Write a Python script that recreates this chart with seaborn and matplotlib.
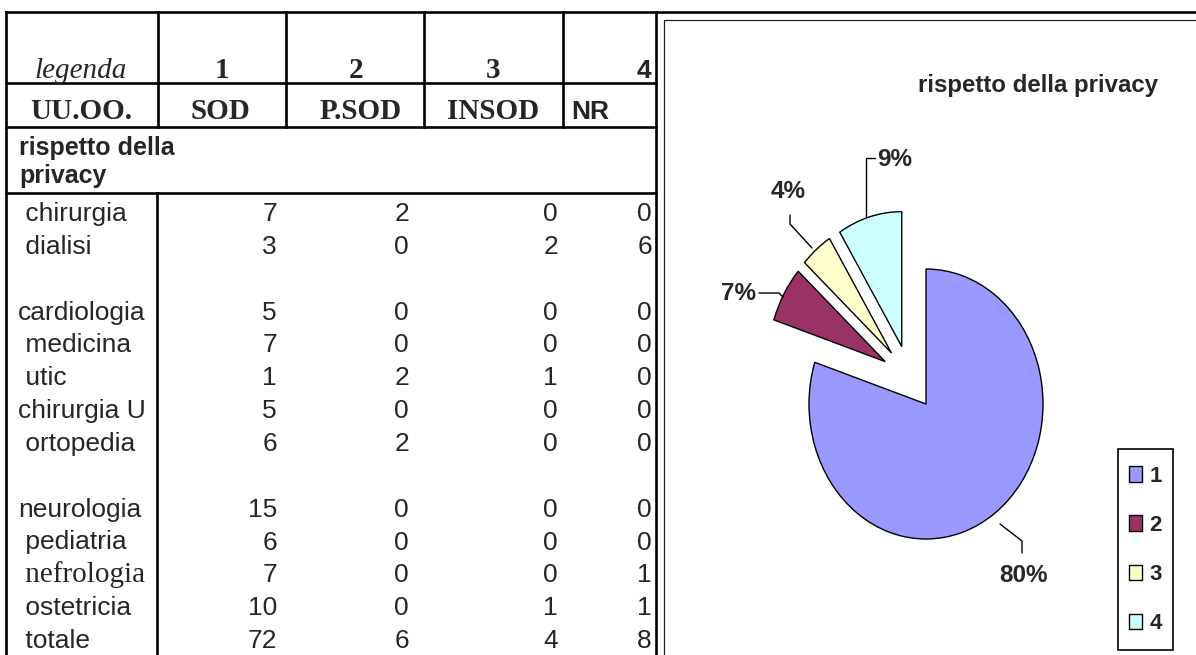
import numpy as np
import pandas as pd
import matplotlib
matplotlib.use("Agg")
import matplotlib.pyplot as plt
from matplotlib.patches import Rectangle
import seaborn as sns

# Answers per ward: 1 = SOD, 2 = P.SOD, 3 = INSOD, 4 = NR
reparti = [" chirurgia", " dialisi", "cardiologia", " medicina", " utic", "chirurgia U",
           " ortopedia", "neurologia", " pediatria", " nefrologia", " ostetricia"]
sod = [7, 3, 5, 7, 1, 5, 6, 15, 6, 7, 10]
psod = [2, 0, 0, 0, 2, 0, 2, 0, 0, 0, 0]
insod = [0, 2, 0, 0, 1, 0, 0, 0, 0, 0, 1]
nr = [0, 6, 0, 0, 0, 0, 0, 0, 0, 1, 1]
gruppi = [2, 5, 4]          # wards per block, blocks separated by an empty row

codici = ["1", "2", "3", "4"]
sigle = ["SOD", "P.SOD", "INSOD", "NR"]
domanda = "rispetto della privacy"
riga_totale = " totale"
colori = ["#9999FF", "#993366", "#FFFFCC", "#CCFFFF"]

df = pd.DataFrame({"reparto": reparti, "SOD": sod, "P.SOD": psod, "INSOD": insod, "NR": nr})
totali = df[sigle].sum().to_numpy()

sns.set_theme(style="white")
SERIF = "Liberation Serif"
SANS = "Liberation Sans"
plt.rcParams["font.family"] = [SANS, "DejaVu Sans"]

W, H = 1196, 655
fig = plt.figure(figsize=(W / 100, H / 100), dpi=100)
fig.patch.set_facecolor("white")

# ---- pie (elliptical, every slice pulled out) ----
cx, cy, rx, ry = 909.5, 377.8, 117.0, 135.0
pax = fig.add_axes([0, 0, 1, 1])
pax.patch.set_alpha(0)
wedges, _ = pax.pie(totali, colors=sns.color_palette(colori), startangle=90,
                    counterclock=False, explode=[0.24] * 4,
                    wedgeprops=dict(edgecolor="black", linewidth=1.0))
pax.set_aspect("auto")
pax.set_xlim(-cx / rx, (W - cx) / rx)
pax.set_ylim((cy - H) / ry, cy / ry)
pax.axis("off")

# legend entries; the box around them is drawn separately below
leg = pax.legend(wedges, codici, loc="center",
                 bbox_to_anchor=(1145.5 / W, 1 - 550 / H), bbox_transform=fig.transFigure,
                 frameon=False, borderaxespad=0, borderpad=0,
                 prop=dict(family=SANS, weight="bold", size=16),
                 handlelength=0.58, handleheight=0.68, handletextpad=0.32,
                 labelspacing=1.27)

# ---- table and chart frame, drawn in pixel space ----
ax = fig.add_axes([0, 0, 1, 1])
ax.patch.set_alpha(0)
ax.set_xlim(0, W)
ax.set_ylim(H, 0)
ax.axis("off")

lw = 1.9
k = dict(color="black", lw=lw, solid_capstyle="projecting")
ax.plot([6, W], [12, 12], **k)
ax.plot([6, 6], [12, H], **k)
ax.plot([656, 656], [12, H], **k)
for y in (83, 127, 193):
    ax.plot([6, 656], [y, y], **k)
for x in (158, 286, 424, 563):
    ax.plot([x, x], [12, 127], **k)
ax.plot([157, 157], [193, H], **k)

# chart frame and legend box
ax.plot([664, 664, W], [H, 20, 20], color="#222222", lw=0.9)
ax.add_patch(Rectangle((1118, 449), 55, 201, fill=False, ec="black", lw=1.2))

# header rows
hs = 21
ax.text(81, 78, "legenda", family=SERIF, style="italic", size=hs, ha="center", va="baseline")
for c, x in zip(codici[:3], [222, 356, 493]):
    ax.text(x, 78, c, family=SERIF, weight="bold", size=hs, ha="center", va="baseline")
ax.text(651, 78, codici[3], family=SANS, weight="bold", size=19, ha="right", va="baseline")
ax.text(81, 119, "UU.OO.", family=SERIF, weight="bold", size=hs, ha="center", va="baseline")
for s, x in zip(sigle[:3], [220, 361, 493]):
    ax.text(x, 119, s, family=SERIF, weight="bold", size=hs, ha="center", va="baseline")
ax.text(571, 119, sigle[3], family=SANS, weight="bold", size=19, ha="left", va="baseline")

parole = domanda.split(" ")
ax.text(19, 155, " ".join(parole[:2]), family=SANS, weight="bold", size=18, va="baseline")
ax.text(19, 183, parole[2], family=SANS, weight="bold", size=18, va="baseline")

# body rows
slots = []
s = 0
for g in gruppi:
    slots += list(range(s, s + g))
    s += g + 1
slot_tot = slots[-1] + 1
base0, step = 221.0, 32.85
num_x = [277, 409, 558, 652]
ds = 19

def riga(slot, nome, valori, serif=False):
    y = base0 + step * slot
    if serif:
        ax.text(18, y, nome, family=SERIF, size=21, va="baseline")
    else:
        ax.text(18, y, nome, family=SANS, size=ds, va="baseline")
    for v, x in zip(valori, num_x):
        ax.text(x, y, f"{v}", family=SANS, size=ds, ha="right", va="baseline")

for i, row in df.iterrows():
    riga(slots[i], row["reparto"], [row[c] for c in sigle],
         serif=row["reparto"].strip() == "nefrologia")
riga(slot_tot, riga_totale, totali)

# ---- chart title and percentage labels ----
ax.text(1038, 92, domanda, family=SANS, weight="bold", size=17.3, ha="center", va="baseline")

pct = 100 * totali / totali.sum()
etichette = [f"{p:.0f}%" for p in pct]
lab = dict(family=SANS, weight="bold", size=17.5, va="center")
leaders = [
    ([1000, 1022, 1022], [524, 541, 553], (1023, 576, "center")),
    ([759, 779, 783], [293, 293, 297], (756, 293, "right")),
    ([790, 790, 812], [215, 224, 248], (788, 192, "center")),
    ([866, 866, 875], [217, 158, 158], (877, 160, "left")),
]
for t, (xs, ys, (tx, ty, ha)) in zip(etichette, leaders):
    ax.plot(xs, ys, color="black", lw=1.0)
    ax.text(tx, ty, t, ha=ha, **lab)

fig.savefig("out.png", dpi=100)
